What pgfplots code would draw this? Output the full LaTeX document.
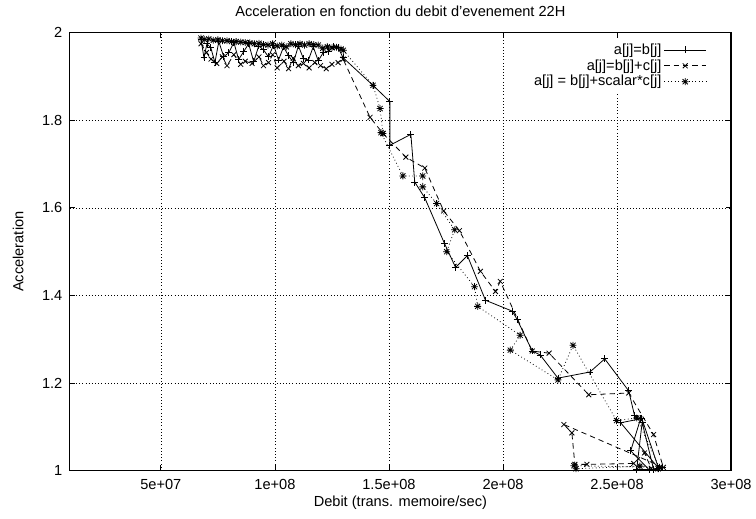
\documentclass[border=0pt]{standalone}
\usepackage{fontspec}
\setmainfont{Liberation Sans}
\usepackage{pgfplots}
\pgfplotsset{compat=1.18}

% gnuplot point type 3: a + over an x
\pgfdeclareplotmark{plusx}{%
  \pgfpathmoveto{\pgfqpoint{-\pgfplotmarksize}{0pt}}%
  \pgfpathlineto{\pgfqpoint{\pgfplotmarksize}{0pt}}%
  \pgfpathmoveto{\pgfqpoint{0pt}{-\pgfplotmarksize}}%
  \pgfpathlineto{\pgfqpoint{0pt}{\pgfplotmarksize}}%
  \pgfpathmoveto{\pgfqpoint{-.75\pgfplotmarksize}{-.75\pgfplotmarksize}}%
  \pgfpathlineto{\pgfqpoint{.75\pgfplotmarksize}{.75\pgfplotmarksize}}%
  \pgfpathmoveto{\pgfqpoint{-.75\pgfplotmarksize}{.75\pgfplotmarksize}}%
  \pgfpathlineto{\pgfqpoint{.75\pgfplotmarksize}{-.75\pgfplotmarksize}}%
  \pgfusepathqstroke}

\begin{document}
\begin{tikzpicture}
\begin{axis}[%
  at={(0pt,0pt)}, anchor=south west,
  scale only axis,
  width=498.75pt, height=330pt,
  font=\fontsize{11}{13}\selectfont,
  axis line style={line width=1pt},
  xmin=0.1e8, xmax=3e8,
  ymin=1, ymax=2,
  xtick={0.5e8,1e8,1.5e8,2e8,2.5e8,3e8},
  xticklabels={5e+07,1e+08,1.5e+08,2e+08,2.5e+08,3e+08},
  ytick={1,1.2,1.4,1.6,1.8,2},
  yticklabels={1,1.2,1.4,1.6,1.8,2},
  scaled x ticks=false,
  tick align=inside,
  major tick length=4pt,
  tick style={black, line width=0.6pt},
  grid=major,
  major grid style={black, dotted, line width=0.5pt},
  xticklabel style={yshift=-3pt},
  yticklabel style={xshift=-2pt},
  title={Acceleration en fonction du debit d'evenement 22H},
  title style={yshift=3pt},
  xlabel={Debit (trans. memoire/sec)},
  ylabel={Acceleration},
  xlabel style={yshift=2pt},
  ylabel style={yshift=7pt},
  legend plot pos=right,
  legend cell align=right,
  legend style={at={(0.965,0.985)}, anchor=north east, draw=none, fill=white,
    font=\fontsize{11}{12}\selectfont, row sep=-1.5pt, inner sep=1pt},
  legend image code/.code={%
    \draw[mark repeat=2,mark phase=2,#1] plot coordinates {(0.25cm,0cm) (0.8cm,0cm) (1.35cm,0cm)};},
  every axis plot/.append style={black, line width=0.6pt, mark size=2.6pt, mark options={solid}},
]
\addplot[solid, mark=+] coordinates {
(0.676e8,1.985) (0.689e8,1.943) (0.702e8,1.975) (0.719e8,1.966) (0.737e8,1.932)
(0.754e8,1.980) (0.776e8,1.945) (0.798e8,1.955) (0.820e8,1.978) (0.841e8,1.939)
(0.863e8,1.957) (0.885e8,1.975) (0.907e8,1.934) (0.929e8,1.970) (0.950e8,1.961)
(0.972e8,1.945) (0.994e8,1.972) (1.016e8,1.938) (1.038e8,1.968) (1.059e8,1.948)
(1.081e8,1.932) (1.103e8,1.970) (1.125e8,1.941) (1.147e8,1.938) (1.168e8,1.968)
(1.190e8,1.936) (1.212e8,1.955) (1.234e8,1.957) (1.256e8,1.968) (1.277e8,1.966)
(1.299e8,1.943) (1.430e8,1.880) (1.504e8,1.843) (1.504e8,1.743) (1.596e8,1.768)
(1.613e8,1.659) (1.657e8,1.623) (1.744e8,1.518) (1.792e8,1.464) (1.844e8,1.491)
(1.923e8,1.389) (2.041e8,1.364) (2.062e8,1.345) (2.128e8,1.273) (2.163e8,1.264)
(2.241e8,1.211) (2.381e8,1.225) (2.446e8,1.255) (2.551e8,1.182) (2.577e8,1.125)
(2.608e8,1.120) (2.682e8,1.005) (2.516e8,1.109) (2.603e8,1.118) (2.560e8,1.045)
(2.640e8,1.002) (2.586e8,1.002) (2.610e8,1.110) (2.660e8,1.003) (2.700e8,1.006)
};
\addlegendentry{a[j]=b[j]}
\addplot[dash pattern=on 4pt off 3pt, mark=x] coordinates {
(0.676e8,1.975) (0.700e8,1.955) (0.720e8,1.940) (0.745e8,1.930) (0.770e8,1.945)
(0.790e8,1.925) (0.820e8,1.950) (0.850e8,1.928) (0.870e8,1.935) (0.900e8,1.930)
(0.930e8,1.945) (0.950e8,1.925) (0.972e8,1.932) (0.990e8,1.950) (1.010e8,1.920)
(1.040e8,1.935) (1.060e8,1.918) (1.080e8,1.942) (1.103e8,1.925) (1.125e8,1.930)
(1.150e8,1.920) (1.175e8,1.932) (1.200e8,1.925) (1.225e8,1.918) (1.250e8,1.928)
(1.277e8,1.932) (1.299e8,1.940) (1.417e8,1.807) (1.474e8,1.770) (1.574e8,1.716)
(1.657e8,1.691) (1.740e8,1.593) (1.809e8,1.548) (1.901e8,1.455) (1.967e8,1.409)
(1.988e8,1.432) (2.128e8,1.273) (2.202e8,1.268) (2.376e8,1.173) (2.551e8,1.177)
(2.660e8,1.082) (2.703e8,1.007) (2.267e8,1.105) (2.302e8,1.086) (2.315e8,1.014)
(2.368e8,1.014) (2.573e8,1.016) (2.620e8,1.040) (2.650e8,1.005)
};
\addlegendentry{a[j]=b[j]+c[j]}
\addplot[dotted, mark=plusx] coordinates {
(0.676e8,1.988) (0.690e8,1.985) (0.710e8,1.986) (0.730e8,1.983) (0.750e8,1.984)
(0.770e8,1.982) (0.790e8,1.982) (0.810e8,1.980) (0.830e8,1.980) (0.850e8,1.979)
(0.870e8,1.978) (0.890e8,1.977) (0.910e8,1.975) (0.930e8,1.976) (0.950e8,1.973)
(0.970e8,1.972) (0.990e8,1.975) (1.010e8,1.970) (1.030e8,1.972) (1.050e8,1.968)
(1.070e8,1.975) (1.090e8,1.973) (1.110e8,1.975) (1.130e8,1.972) (1.150e8,1.975)
(1.170e8,1.973) (1.190e8,1.972) (1.210e8,1.965) (1.230e8,1.968) (1.250e8,1.966)
(1.270e8,1.967) (1.290e8,1.963) (1.300e8,1.960) (1.430e8,1.880) (1.461e8,1.827)
(1.474e8,1.770) (1.465e8,1.772) (1.561e8,1.673) (1.648e8,1.673) (1.648e8,1.648)
(1.709e8,1.610) (1.788e8,1.550) (1.753e8,1.500) (1.875e8,1.420) (1.889e8,1.375)
(2.075e8,1.309) (2.032e8,1.275) (2.241e8,1.207) (2.307e8,1.286) (2.498e8,1.114)
(2.586e8,1.120) (2.686e8,1.007) (2.311e8,1.011) (2.320e8,1.004) (2.600e8,1.010)
(2.680e8,1.004)
};
\addlegendentry{a[j] = b[j]+scalar*c[j]}
\end{axis}
\path[use as bounding box] (-52.5pt,-36pt) rectangle (514.5pt,354.75pt);
\end{tikzpicture}
\end{document}
